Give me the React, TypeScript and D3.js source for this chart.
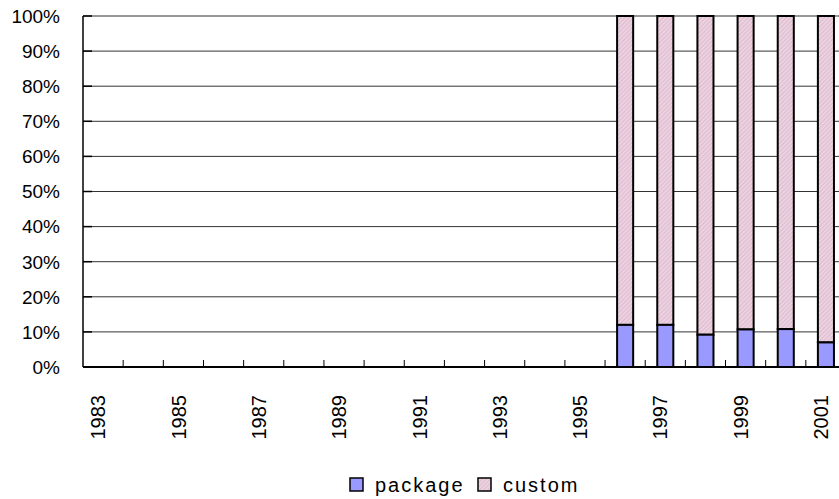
import { useEffect, useRef } from 'react'
import * as d3 from 'd3'

const years = [
  1983, 1984, 1985, 1986, 1987, 1988, 1989, 1990, 1991, 1992,
  1993, 1994, 1995, 1996, 1997, 1998, 1999, 2000, 2001,
]
// share of package software (%), custom is the remainder; null = no data
const packageShare: (number | null)[] = [
  null, null, null, null, null, null, null, null, null, null,
  null, null, null, 12, 12, 9.2, 10.7, 10.8, 7,
]
const yTicks = [0, 10, 20, 30, 40, 50, 60, 70, 80, 90, 100]
const seriesNames = ['package', 'custom']

export default function App() {
  const svgRef = useRef<SVGSVGElement>(null)

  useEffect(() => {
    if (!svgRef.current) return
    const svg = d3.select(svgRef.current)
    svg.selectAll('*').remove()

    const margin = { top: 16, left: 83 }
    const plotW = 763
    const plotH = 351
    const font = '"Liberation Sans", Arial, sans-serif'

    const defs = svg.append('defs')
    const pat = defs.append('pattern')
      .attr('id', 'hatch')
      .attr('patternUnits', 'userSpaceOnUse')
      .attr('width', 3)
      .attr('height', 3)
      .attr('patternTransform', 'rotate(45)')
    pat.append('rect').attr('width', 3).attr('height', 3).attr('fill', '#ecd2e0')
    pat.append('line')
      .attr('x1', 0).attr('y1', 0).attr('x2', 0).attr('y2', 3)
      .attr('stroke', '#d4aec4').attr('stroke-width', 1.2)

    const g = svg.append('g').attr('transform', `translate(${margin.left},${margin.top})`)

    const x = d3.scaleBand<number>()
      .domain(years)
      .range([0, plotW])
      .paddingInner(0.6)
      .paddingOuter(0.3)
    const step = x.step()

    const y = d3.scaleLinear().domain([0, 100]).range([plotH, 0])

    // gridlines
    g.selectAll('line.grid')
      .data(yTicks.filter(t => t > 0))
      .join('line')
      .attr('class', 'grid')
      .attr('x1', 0)
      .attr('x2', plotW)
      .attr('y1', d => y(d))
      .attr('y2', d => y(d))
      .attr('stroke', '#333')
      .attr('stroke-width', 1)

    // y tick marks
    g.selectAll('line.ytick')
      .data(yTicks)
      .join('line')
      .attr('class', 'ytick')
      .attr('x1', 0)
      .attr('x2', 9)
      .attr('y1', d => y(d))
      .attr('y2', d => y(d))
      .attr('stroke', '#000')
      .attr('stroke-width', 1.5)

    // y labels
    g.selectAll('text.ylab')
      .data(yTicks)
      .join('text')
      .attr('class', 'ylab')
      .attr('x', -23)
      .attr('y', d => y(d))
      .attr('dy', '0.36em')
      .attr('text-anchor', 'end')
      .style('font-family', font)
      .style('font-size', '19px')
      .attr('fill', '#000')
      .text(d => `${d}%`)

    // bars
    years.forEach((yr, i) => {
      const p = packageShare[i]
      if (p == null) return
      const bx = x(yr) as number
      const bw = x.bandwidth()
      g.append('rect')
        .attr('x', bx).attr('width', bw)
        .attr('y', y(100)).attr('height', y(p) - y(100))
        .attr('fill', 'url(#hatch)')
        .attr('stroke', '#000').attr('stroke-width', 2)
      g.append('rect')
        .attr('x', bx).attr('width', bw)
        .attr('y', y(p)).attr('height', y(0) - y(p))
        .attr('fill', '#9999ff')
        .attr('stroke', '#000').attr('stroke-width', 2)
    })

    // x tick marks between categories
    g.selectAll('line.xtick')
      .data(d3.range(1, years.length))
      .join('line')
      .attr('class', 'xtick')
      .attr('x1', d => d * step)
      .attr('x2', d => d * step)
      .attr('y1', plotH)
      .attr('y2', plotH - 7)
      .attr('stroke', '#000')
      .attr('stroke-width', 1)

    // axes lines
    g.append('line')
      .attr('x1', 0).attr('x2', 0).attr('y1', 0).attr('y2', plotH)
      .attr('stroke', '#000').attr('stroke-width', 1.5)
    g.append('line')
      .attr('x1', 0).attr('x2', plotW).attr('y1', plotH).attr('y2', plotH)
      .attr('stroke', '#000').attr('stroke-width', 2)

    // x labels (odd years)
    g.selectAll('text.xlab')
      .data(years.filter(yr => yr % 2 === 1))
      .join('text')
      .attr('class', 'xlab')
      .attr('transform', d => `translate(${(x(d) as number) + x.bandwidth() / 2 - 5},${plotH + 28}) rotate(-90)`)
      .attr('dy', '0.36em')
      .attr('text-anchor', 'end')
      .style('font-family', font)
      .style('font-size', '20px')
      .attr('fill', '#000')
      .text(d => String(d))

    // legend
    const legend = svg.append('g').attr('transform', 'translate(350,478)')
    const fills = ['#9999ff', 'url(#hatch)']
    const offsets = [0, 128]
    seriesNames.forEach((name, i) => {
      const lg = legend.append('g').attr('transform', `translate(${offsets[i]},0)`)
      lg.append('rect')
        .attr('width', 13).attr('height', 13)
        .attr('fill', fills[i])
        .attr('stroke', '#000').attr('stroke-width', 1.5)
      lg.append('text')
        .attr('x', 25).attr('y', 14)
        .style('font-family', font)
        .style('font-size', '20px')
        .style('letter-spacing', '2px')
        .attr('fill', '#000')
        .text(name)
    })
  }, [])

  return (
    <div style={{ position: 'absolute', left: 0, top: 0, width: 839, height: 499, overflow: 'hidden', background: '#fff' }}>
      <svg ref={svgRef} width={839} height={499} />
    </div>
  )
}
